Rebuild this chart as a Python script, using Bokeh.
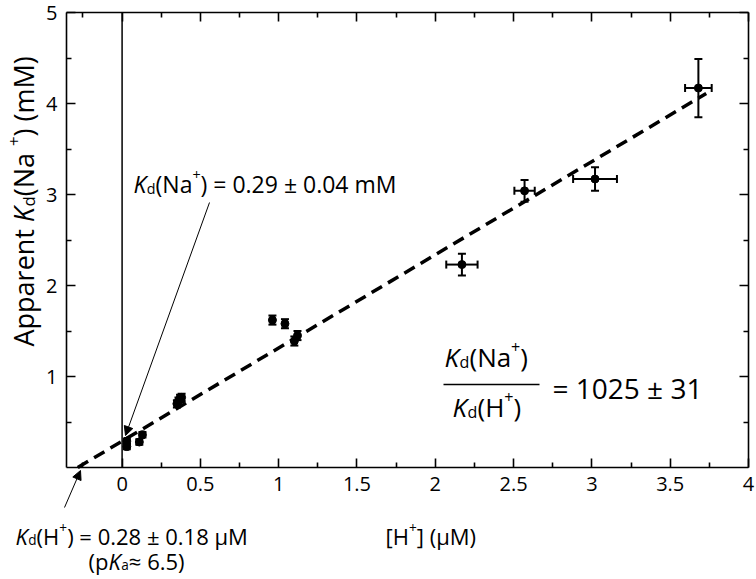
from bokeh.plotting import figure
from bokeh.models import (ColumnDataSource, Whisker, TeeHead, Label, Arrow,
                          NormalHead, LinearAxis, FixedTicker, Range1d)
from bokeh.embed import file_html
from bokeh.resources import INLINE
import math

# ---------------- data ----------------
h_conc = [0.03, 0.03, 0.11, 0.13, 0.35, 0.36, 0.37, 0.38, 0.96, 1.04, 1.10, 1.12, 2.17, 2.57, 3.02, 3.68]
kd_app = [0.23, 0.29, 0.28, 0.36, 0.70, 0.73, 0.76, 0.77, 1.62, 1.58, 1.39, 1.45, 2.23, 3.04, 3.17, 4.17]
h_err = [0.01, 0.01, 0.01, 0.01, 0.01, 0.01, 0.01, 0.01, 0.01, 0.01, 0.01, 0.01, 0.10, 0.065, 0.14, 0.085]
kd_err = [0.03, 0.03, 0.03, 0.03, 0.04, 0.04, 0.04, 0.04, 0.05, 0.05, 0.05, 0.05, 0.12, 0.12, 0.13, 0.32]

fit_x = [-0.283, 3.73]
fit_y = [0.0, 4.11]

x_ticks = [0, 0.5, 1, 1.5, 2, 2.5, 3, 3.5, 4]
x_minor = [-0.25, 0.25, 0.75, 1.25, 1.75, 2.25, 2.75, 3.25, 3.75]
y_ticks = [1, 2, 3, 4, 5]
y_minor = [0.5, 1.5, 2.5, 3.5, 4.5]

# axis box limits
X0, X1, Y0, Y1 = -0.355, 4.0, 0.0, 5.0

# ---------------- figure ----------------
W, H = 756, 579
BL, BR, BT, BB = 66, 8, 12, 112    # pixel position of the axis box inside the canvas
PPX = (W - BL - BR) / (X1 - X0)
PPY = (H - BT - BB) / (Y1 - Y0)
FONT = "Open Sans"

# the frame covers the whole canvas so that texts outside the box are not clipped
p = figure(width=W, height=H, output_backend="svg", toolbar_location=None,
           x_range=Range1d(X0 - BL / PPX, X1 + BR / PPX),
           y_range=Range1d(Y0 - BB / PPY, Y1 + BT / PPY),
           min_border_left=0, min_border_right=0, min_border_top=0, min_border_bottom=0,
           x_axis_type=None, y_axis_type=None)
p.grid.visible = False
p.outline_line_color = None
p.background_fill_color = "white"
p.border_fill_color = "white"

xt = FixedTicker(ticks=x_ticks, minor_ticks=x_minor)
yt = FixedTicker(ticks=y_ticks, minor_ticks=y_minor)

def make_axis(ticker, ticks, loc, bounds, show_labels):
    ax = LinearAxis(ticker=ticker, fixed_location=loc, bounds=bounds)
    ax.axis_line_width = 1.6
    ax.axis_line_color = "black"
    ax.major_tick_in = 9
    ax.major_tick_out = 0
    ax.minor_tick_in = 5
    ax.minor_tick_out = 0
    ax.major_tick_line_width = 1.6
    ax.minor_tick_line_width = 1.6
    ax.major_tick_line_color = "black"
    ax.minor_tick_line_color = "black"
    ax.major_label_text_font = FONT
    ax.major_label_text_color = "black"
    ax.major_label_text_font_size = "20px"
    if show_labels:
        ax.major_label_standoff = 9
    else:
        ax.major_label_standoff = 0
        ax.major_label_overrides = {t: "" for t in ticks}
    return ax

p.add_layout(make_axis(xt, x_ticks, Y0, (X0, X1), True), "below")
p.add_layout(make_axis(xt, x_ticks, Y1, (X0, X1), False), "above")
p.add_layout(make_axis(yt, y_ticks, X0, (Y0, Y1), True), "left")
p.add_layout(make_axis(yt, y_ticks, X1, (Y0, Y1), False), "right")

# vertical line at x = 0
p.add_layout(Arrow(x_start=0, y_start=Y0, x_end=0, y_end=Y1, end=None,
                   line_color="black", line_width=1.5))

# fit line
p.line(fit_x, fit_y, line_color="black", line_width=3.5, line_dash="12 7")

# data with error bars
src = ColumnDataSource(dict(
    x=h_conc, y=kd_app,
    xl=[a - b for a, b in zip(h_conc, h_err)], xu=[a + b for a, b in zip(h_conc, h_err)],
    yl=[a - b for a, b in zip(kd_app, kd_err)], yu=[a + b for a, b in zip(kd_app, kd_err)],
))
p.add_layout(Whisker(source=src, base="x", lower="yl", upper="yu", dimension="height",
                     line_width=2, line_color="black",
                     upper_head=TeeHead(size=8, line_width=2, line_color="black"),
                     lower_head=TeeHead(size=8, line_width=2, line_color="black")))
p.add_layout(Whisker(source=src, base="y", lower="xl", upper="xu", dimension="width",
                     line_width=2, line_color="black",
                     upper_head=TeeHead(size=8, line_width=2, line_color="black"),
                     lower_head=TeeHead(size=8, line_width=2, line_color="black")))
p.scatter("x", "y", source=src, size=8, color="black")

# ---------------- rich text helpers ----------------
CW = {" ": .26, "(": .296, ")": .296, "[": .327, "]": .327, "+": .572, "=": .572, "±": .572,
      ".": .266, "A": .633, "N": .748, "M": .903, "H": .738, "K": .58, "a": .556, "p": .613,
      "r": .408, "e": .561, "n": .614, "t": .344, "d": .613, "m": .93, "µ": .614, "≈": .572}

def tw(s):
    return sum(CW.get(c, .572) for c in s)

def rich(px, py, runs, size, angle=0.0):
    """Place a run of text pieces starting at canvas pixel (px, py) (baseline)."""
    adv = 0.0
    for text, kind in runs:
        fs = size * 0.62 if kind in ("sub", "sup") else size
        shift = -0.2 * size if kind == "sub" else (0.36 * size if kind == "sup" else 0.0)
        st = "italic" if kind == "i" else "normal"
        if angle == 0:
            xo, yo = adv, shift
        else:
            xo, yo = -shift, adv
        p.add_layout(Label(x=px, y=py, x_units="canvas", y_units="canvas",
                           x_offset=xo, y_offset=yo, text=text,
                           angle=angle, text_align="left", text_baseline="alphabetic",
                           text_font=FONT, text_font_size=f"{fs:.1f}px", text_font_style=st,
                           text_color="black"))
        adv += tw(text) * fs
    return adv

# y axis title
rich(23, 346, [("Apparent ", "n"), ("K", "i"), ("d", "sub"), (" (Na", "n"), ("+", "sup"), (") (mM)", "n")],
     27, angle=math.pi / 2)
# x axis title
rich(385, 535, [("[H", "n"), ("+", "sup"), ("] (µM)", "n")], 22)

# Kd(Na+) annotation
rich(133, 183, [("K", "i"), ("d", "sub"), ("(Na", "n"), ("+", "sup"), (") = 0.29 ± 0.04 mM", "n")], 23)
# Kd(H+) annotation
rich(15, 535, [("K", "i"), ("d", "sub"), ("(H", "n"), ("+", "sup"), (") = 0.28 ± 0.18 µM", "n")], 22)
rich(88, 560, [("(p", "n"), ("K", "i"), ("a", "sub"), (" ≈ 6.5)", "n")], 22)

# ratio
rich(444, 356, [("K", "i"), ("d", "sub"), ("(Na", "n"), ("+", "sup"), (")", "n")], 26)
rich(452, 406, [("K", "i"), ("d", "sub"), ("(H", "n"), ("+", "sup"), (")", "n")], 26)
rich(552, 387, [("= 1025 ± 31", "n")], 28)
p.add_layout(Arrow(x_start=443, y_start=384, x_end=539, y_end=384,
                   start_units="canvas", end_units="canvas",
                   end=None, line_color="black", line_width=1.5))

# arrows
p.add_layout(Arrow(x_start=209, y_start=202, x_end=125, y_end=435,
                   start_units="canvas", end_units="canvas",
                   line_color="black", line_width=1,
                   end=NormalHead(size=9, fill_color="black", line_color="black", line_width=1)))
p.add_layout(Arrow(x_start=64, y_start=507, x_end=80, y_end=470,
                   start_units="canvas", end_units="canvas",
                   line_color="black", line_width=1,
                   end=NormalHead(size=9, fill_color="black", line_color="black", line_width=1)))

open("out.html", "w").write(file_html(p, INLINE))
